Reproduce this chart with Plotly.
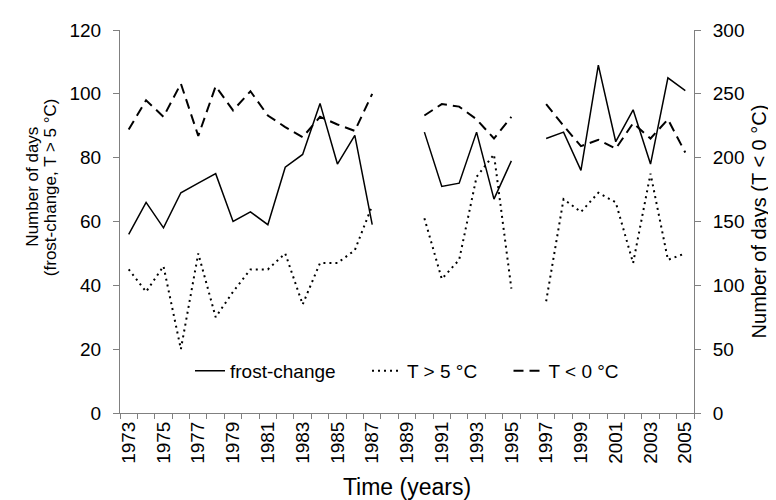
import plotly.graph_objects as go

years = list(range(1973, 2006))

# frost-change days (left axis)
frost_change = [56, 66, 58, 69, 72, 75, 60, 63, 59, 77, 81, 97, 78, 87, 59,
                None, None,
                88, 71, 72, 88, 67, 79,
                None,
                86, 88, 76, 109, 85, 95, 78, 105, 101]

# days with T > 5 °C (left axis)
t_above5 = [45, 38, 46, 20, 50, 30, 38, 45, 45, 50, 34, 47, 47, 51, 65,
            None, None,
            61, 42, 48, 74, 81, 39,
            None,
            35, 67, 63, 69, 66, 47, 75, 48, 50]

# days with T < 0 °C (right axis)
t_below0 = [222, 245, 232, 258, 217, 256, 237, 252, 233, 224, 216, 232, 226, 221, 250,
            None, None,
            233, 242, 240, 230, 215, 232,
            None,
            242, 225, 209, 214, 207, 227, 215, 230, 204]

year_labels = [str(y) for y in range(1973, 2006, 2)]

font = "Liberation Sans, Arial, sans-serif"
grey = "#808080"
pad = "\u00a0" * 5

fig = go.Figure()
fig.add_trace(go.Scatter(x=years, y=frost_change, name="frost-change" + pad, mode="lines",
                         line=dict(color="black", width=1.5)))
fig.add_trace(go.Scatter(x=years, y=t_above5, name="T > 5 °C" + pad, mode="lines",
                         line=dict(color="black", width=2, dash="2px,4px")))
fig.add_trace(go.Scatter(x=years, y=t_below0, name="T < 0 °C", mode="lines", yaxis="y2",
                         line=dict(color="black", width=2, dash="10px,6px")))

# left axis title as two tight annotation lines
fig.add_annotation(text="Number of days", x=-0.1516, y=0.591, xref="paper", yref="paper",
                   textangle=-90, showarrow=False, xanchor="center", yanchor="middle",
                   font=dict(size=17))
fig.add_annotation(text="(frost-change, T > 5 °C)", x=-0.1211, y=0.591, xref="paper", yref="paper",
                   textangle=-90, showarrow=False, xanchor="center", yanchor="middle",
                   font=dict(size=17))

fig.update_layout(
    width=776, height=500,
    margin=dict(l=112, r=90, t=15, b=94),
    paper_bgcolor="white", plot_bgcolor="white",
    font=dict(family=font, size=19, color="black"),
    showlegend=True,
    legend=dict(orientation="h", x=0.5, xanchor="center", y=0.11, yanchor="middle",
                bgcolor="rgba(0,0,0,0)", font=dict(size=19)),
    xaxis=dict(range=[1972.5, 2005.5], tickmode="array",
               tickvals=list(range(1973, 2006, 2)), ticktext=year_labels,
               tickangle=-90, ticks="", showgrid=False, zeroline=False,
               showline=True, linecolor=grey, linewidth=1,
               minor=dict(tickmode="linear", tick0=1972.5, dtick=1, ticks="outside",
                          ticklen=5, tickcolor=grey, showgrid=False),
               title=dict(text="Time (years)", standoff=16)),
    yaxis=dict(range=[0, 120], dtick=20, ticks="outside", ticklen=6, tickcolor=grey,
               ticklabelstandoff=8,
               showgrid=False, zeroline=False, showline=True, linecolor=grey, linewidth=1),
    yaxis2=dict(range=[0, 300], dtick=50, overlaying="y", side="right",
                ticks="outside", ticklen=6, tickcolor=grey, ticklabelstandoff=8,
                showgrid=False, zeroline=False, showline=True, linecolor=grey, linewidth=1,
                title=dict(text="Number of days (T < 0 °C)", standoff=8, font=dict(size=20))),
)

fig.write_html("out.html")
